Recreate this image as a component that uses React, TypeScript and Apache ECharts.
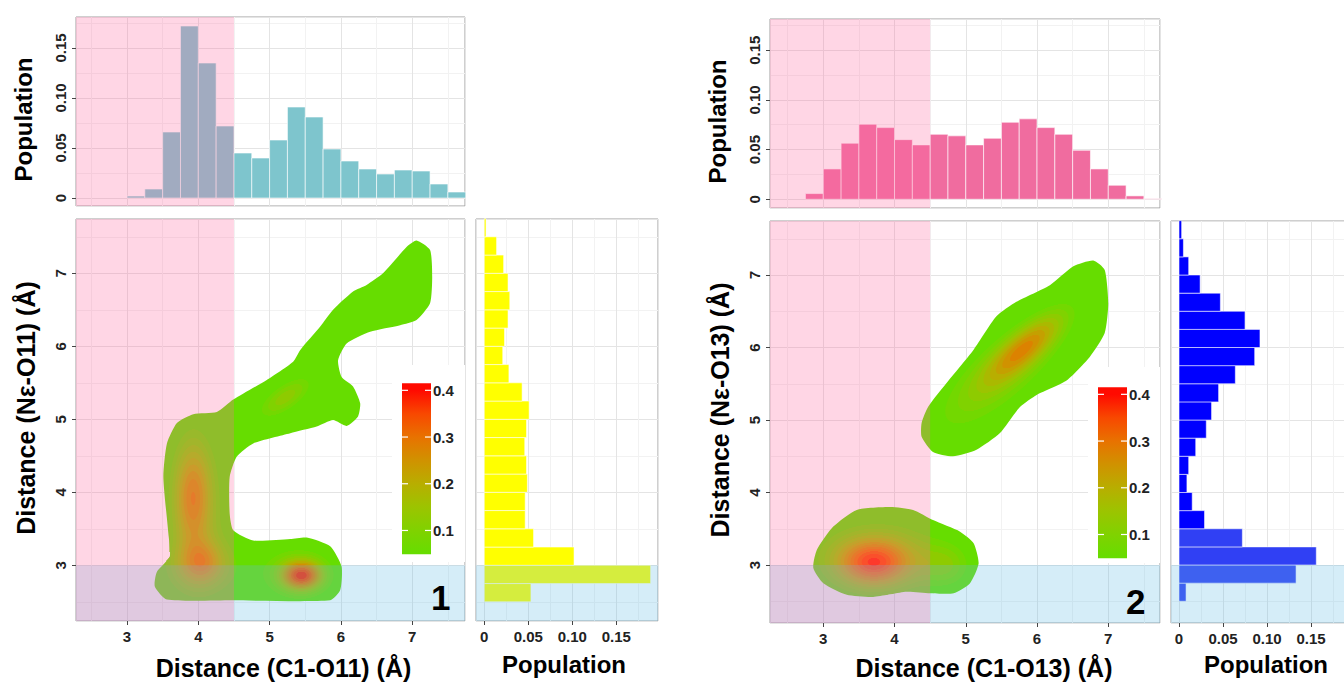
import { useEffect, useRef } from 'react';
import * as echarts from 'echarts';

const FONT = "'Liberation Sans', Arial, Helvetica, sans-serif";
const BIN = 0.25;

// ---------- data ----------
// panel 1 : top histogram (bin starts, populations)
const L_TOP_BINS = [3.0, 3.25, 3.5, 3.75, 4.0, 4.25, 4.5, 4.75, 5.0, 5.25, 5.5, 5.75, 6.0, 6.25, 6.5, 6.75, 7.0, 7.25, 7.5];
const L_TOP_POP = [0.002, 0.009, 0.066, 0.172, 0.135, 0.072, 0.045, 0.040, 0.058, 0.091, 0.081, 0.049, 0.037, 0.029, 0.024, 0.028, 0.027, 0.014, 0.006];
// panel 1 : side histogram (bin bottoms, populations)
const L_SIDE_BINS = [2.5, 2.75, 3.0, 3.25, 3.5, 3.75, 4.0, 4.25, 4.5, 4.75, 5.0, 5.25, 5.5, 5.75, 6.0, 6.25, 6.5, 6.75, 7.0, 7.25, 7.5];
const L_SIDE_POP = [0.053, 0.189, 0.102, 0.056, 0.0465, 0.0465, 0.049, 0.048, 0.046, 0.048, 0.051, 0.043, 0.028, 0.021, 0.023, 0.027, 0.029, 0.027, 0.022, 0.014, 0.002];
// panel 2 : top histogram
const R_TOP_BINS = [2.75, 3.0, 3.25, 3.5, 3.75, 4.0, 4.25, 4.5, 4.75, 5.0, 5.25, 5.5, 5.75, 6.0, 6.25, 6.5, 6.75, 7.0, 7.25, 7.5];
const R_TOP_POP = [0.0057, 0.0305, 0.0564, 0.0755, 0.0721, 0.060, 0.0547, 0.0654, 0.0638, 0.0547, 0.0614, 0.0775, 0.0809, 0.0721, 0.0654, 0.0493, 0.0305, 0.0141, 0.0034, 0.0005];
// panel 2 : side histogram
const R_SIDE_BINS = [2.5, 2.75, 3.0, 3.25, 3.5, 3.75, 4.0, 4.25, 4.5, 4.75, 5.0, 5.25, 5.5, 5.75, 6.0, 6.25, 6.5, 6.75, 7.0, 7.25, 7.5];
const R_SIDE_POP = [0.008, 0.133, 0.156, 0.072, 0.029, 0.015, 0.009, 0.011, 0.019, 0.031, 0.037, 0.045, 0.064, 0.086, 0.092, 0.075, 0.047, 0.024, 0.011, 0.005, 0.003];

// density contours: outer contour outlines [x, y] (Å)
const L_OUTLINE: [number, number][] = [
  [7.06, 7.45], [7.25, 7.32], [7.28, 6.95], [7.25, 6.59], [7.06, 6.36], [6.83, 6.29], [6.41, 6.2], [6.08, 6.04],
  [5.96, 5.81], [6.01, 5.58], [6.17, 5.45], [6.27, 5.22], [6.24, 5.04], [6.08, 4.91], [5.89, 4.99], [5.66, 4.9],
  [5.29, 4.81], [4.77, 4.67], [4.54, 4.49], [4.44, 4.21], [4.44, 3.71], [4.49, 3.48], [4.77, 3.34], [5.29, 3.36],
  [5.52, 3.38], [5.85, 3.26], [6.01, 2.98], [5.99, 2.66], [5.85, 2.52], [4.49, 2.52], [3.56, 2.53], [3.39, 2.71],
  [3.42, 2.91], [3.6, 3.12], [3.58, 3.44], [3.51, 4.21], [3.56, 4.67], [3.7, 4.95], [3.93, 5.07], [4.26, 5.1],
  [4.49, 5.27], [4.96, 5.54], [5.33, 5.79], [5.43, 5.95], [5.71, 6.27], [5.89, 6.5], [6.17, 6.75], [6.36, 6.84],
  [6.59, 7.0], [6.92, 7.36],
];
const R_OUTLINE_UP: [number, number][] = [
  [6.79, 7.2], [6.95, 7.07], [7.0, 6.61], [6.95, 6.2], [6.74, 5.87], [6.42, 5.55], [6.0, 5.35], [5.76, 5.18],
  [5.48, 4.82], [5.15, 4.59], [4.82, 4.5], [4.54, 4.56], [4.38, 4.77], [4.38, 4.96], [4.47, 5.18], [4.73, 5.51],
  [5.11, 5.97], [5.43, 6.43], [5.71, 6.63], [6.18, 6.86], [6.51, 7.12],
];
const R_OUTLINE_LOW: [number, number][] = [
  [3.94, 3.8], [4.26, 3.76], [4.54, 3.62], [4.92, 3.46], [5.11, 3.3], [5.18, 3.02], [5.06, 2.75], [4.83, 2.61],
  [4.5, 2.61], [4.17, 2.63], [3.7, 2.56], [3.33, 2.59], [3.0, 2.75], [2.86, 2.96], [2.91, 3.21], [3.14, 3.53],
  [3.47, 3.76],
];
// density peaks: [cx, cy, spread along angle, spread across, angle deg, height]
const L_PEAKS = [
  [3.92, 3.95, 0.18, 0.5, 0, 0.18],
  [3.97, 3.8, 0.3, 0.8, 0, 0.1],
  [4.07, 3.05, 0.2, 0.2, 0, 0.11],
  [3.95, 2.95, 0.35, 0.25, 0, 0.07],
  [5.45, 2.86, 0.2, 0.14, 0, 0.28],
  [5.45, 2.88, 0.35, 0.26, 0, 0.09],
  [4.75, 2.93, 0.75, 0.4, 0, 0.04],
  [5.22, 5.3, 0.34, 0.14, 34, 0.14],
];
const R_PEAKS = [
  [5.85, 6.02, 0.5, 0.17, 40, 0.2],
  [5.4, 5.55, 0.85, 0.32, 40, 0.12],
  [3.7, 3.03, 0.36, 0.23, 0, 0.29],
  [3.85, 3.15, 0.75, 0.38, 0, 0.1],
  [4.72, 2.98, 0.25, 0.22, 0, 0.09],
];
const LEVELS = [0.05, 0.075, 0.1, 0.125, 0.15, 0.175, 0.2, 0.225, 0.25, 0.275, 0.3, 0.325, 0.35, 0.375, 0.4];
// colour scale
const CB_VALS = [0.05, 0.1, 0.15, 0.2, 0.25, 0.3, 0.35, 0.4];
const CB_COLORS = ['#66dd00', '#80d200', '#9cc400', '#b8ae00', '#d09200', '#e87200', '#f84800', '#ff0a00'];
const CB_TICKS = [0.1, 0.2, 0.3, 0.4];
const CB_MIN = 0.049;
const CB_MAX = 0.415;
// region split values
const X_SPLIT = 4.5;
const Y_SPLIT = 3.0;

// axis ranges
const L_X = [2.285, 7.74];
const L_Y = [2.237, 7.744];
const L_TOPY = [-0.008, 0.181];
const L_SIDEX = [-0.0094, 0.1974];
const L_CBY = [0.0325, 0.4542];
const R_X = [2.252, 7.726];
const R_Y = [2.2, 7.745];
const R_TOPY = [-0.0088, 0.1814];
const R_SIDEX = [-0.0091, 0.1977];
const R_CBY = [0.039, 0.4585];

const PINK_OV = 'rgba(255,105,160,0.27)';
const BLUE_OV = 'rgba(100,190,230,0.27)';

function hexRgb(h: string) {
  return [parseInt(h.slice(1, 3), 16), parseInt(h.slice(3, 5), 16), parseInt(h.slice(5, 7), 16)];
}
function colorAt(v: number) {
  if (v <= CB_VALS[0]) return CB_COLORS[0];
  for (let i = 1; i < CB_VALS.length; i++) {
    if (v <= CB_VALS[i]) {
      const t = (v - CB_VALS[i - 1]) / (CB_VALS[i] - CB_VALS[i - 1]);
      const a = hexRgb(CB_COLORS[i - 1]);
      const b = hexRgb(CB_COLORS[i]);
      const c = a.map((x, k) => Math.round(x + (b[k] - x) * t));
      return `rgb(${c[0]},${c[1]},${c[2]})`;
    }
  }
  return CB_COLORS[CB_COLORS.length - 1];
}

function makeDensity(peaks: number[][]) {
  const pre = peaks.map(([cx, cy, sa, sb, ang, A]) => {
    const t = (ang * Math.PI) / 180;
    return [cx, cy, sa, sb, Math.cos(t), Math.sin(t), A];
  });
  return (x: number, y: number) => {
    let s = 0;
    for (const [cx, cy, sa, sb, c, sn, A] of pre) {
      const dx = x - cx;
      const dy = y - cy;
      const a = (dx * c + dy * sn) / sa;
      const b = (-dx * sn + dy * c) / sb;
      s += A * Math.exp(-0.5 * (a * a + b * b));
    }
    return s;
  };
}

function scan(poly: [number, number][], y: number) {
  const xs: number[] = [];
  for (let i = 0; i < poly.length; i++) {
    const [xa, ya] = poly[i];
    const [xb, yb] = poly[(i + 1) % poly.length];
    if ((ya <= y && yb > y) || (yb <= y && ya > y)) xs.push(xa + ((y - ya) / (yb - ya)) * (xb - xa));
  }
  xs.sort((a, b) => a - b);
  const out: number[][] = [];
  for (let i = 0; i + 1 < xs.length; i += 2) out.push([xs[i], xs[i + 1]]);
  return out;
}

function contourRender(peaks: number[][], outlines: [number, number][][], xr: number[], yr: number[]) {
  const dens = makeDensity(peaks);
  return (params: any, api: any) => {
    const cs = params.coordSys;
    const p0 = api.coord([xr[0], yr[0]]);
    const p1 = api.coord([xr[1], yr[1]]);
    const fx = (px: number) => xr[0] + ((px - p0[0]) / (p1[0] - p0[0])) * (xr[1] - xr[0]);
    const fy = (py: number) => yr[0] + ((py - p0[1]) / (p1[1] - p0[1])) * (yr[1] - yr[0]);
    const children: any[] = [];
    outlines.forEach((o) =>
      children.push({
        type: 'polygon',
        silent: true,
        shape: { points: o.map((p) => api.coord(p)), smooth: 0.2 },
        style: { fill: colorAt(LEVELS[0]) },
      })
    );
    const x0 = Math.floor(cs.x);
    const x1 = Math.ceil(cs.x + cs.width);
    const y0 = Math.floor(cs.y);
    const y1 = Math.ceil(cs.y + cs.height);
    const W = x1 - x0;
    const rows: Float32Array[] = [];
    for (let py = y0; py < y1; py++) {
      const yv = fy(py + 0.5);
      const ivs: number[][] = [];
      outlines.forEach((o) => scan(o, yv).forEach((iv) => ivs.push(iv)));
      const d = new Float32Array(W);
      if (ivs.length) {
        for (let i = 0; i < W; i++) {
          const xv = fx(x0 + i + 0.5);
          let inside = false;
          for (const iv of ivs) if (xv >= iv[0] && xv <= iv[1]) { inside = true; break; }
          d[i] = inside ? dens(xv, yv) : 0;
        }
      }
      rows.push(d);
    }
    for (let li = 1; li < LEVELS.length; li++) {
      const L = LEVELS[li];
      const fill = colorAt(L);
      rows.forEach((d, r) => {
        let start = -1;
        for (let i = 0; i <= W; i++) {
          const on = i < W && d[i] >= L;
          if (on && start < 0) {
            start = i === 0 ? 0 : i - 1 + (L - d[i - 1]) / (d[i] - d[i - 1]);
          } else if (!on && start >= 0) {
            const end = i === W ? W - 1 : i - 1 + (d[i - 1] - L) / (d[i - 1] - d[i]);
            children.push({
              type: 'rect',
              silent: true,
              shape: { x: x0 + 0.5 + start, y: y0 + r, width: Math.max(0.3, end - start), height: 1 },
              style: { fill },
            });
            start = -1;
          }
        }
      });
    }
    return { type: 'group', children };
  };
}

function vBarRender(color: string) {
  return (params: any, api: any) => {
    const x0 = api.value(0);
    const v = api.value(1);
    const a = api.coord([x0, 0]);
    const b = api.coord([x0 + BIN, v]);
    return {
      type: 'rect',
      shape: { x: a[0], y: b[1], width: b[0] - a[0], height: a[1] - b[1] },
      style: { fill: color, stroke: 'rgba(255,255,255,0.6)', lineWidth: 1 },
    };
  };
}
function hBarRender(colorFor: (y0: number) => string) {
  return (params: any, api: any) => {
    const y0 = api.value(0);
    const v = api.value(1);
    const a = api.coord([0, y0]);
    const b = api.coord([v, y0 + BIN]);
    return {
      type: 'rect',
      shape: { x: a[0], y: b[1], width: b[0] - a[0], height: a[1] - b[1] },
      style: { fill: colorFor(y0), stroke: 'rgba(255,255,255,0.55)', lineWidth: 1 },
    };
  };
}
function colorbarRender(params: any, api: any) {
  const cs = params.coordSys;
  const bx = cs.x + 10;
  const bw = 29;
  const top = api.coord([0.5, CB_MAX])[1];
  const bot = api.coord([0.5, CB_MIN])[1];
  const colorStops: any[] = [{ offset: 0, color: CB_COLORS[0] }];
  CB_VALS.forEach((v, i) =>
    colorStops.push({ offset: Math.min(1, Math.max(0, (v - CB_MIN) / (CB_MAX - CB_MIN))), color: CB_COLORS[i] })
  );
  colorStops.push({ offset: 1, color: CB_COLORS[CB_COLORS.length - 1] });
  const children: any[] = [
    {
      type: 'rect',
      shape: { x: bx, y: top, width: bw, height: bot - top },
      style: { fill: { type: 'linear', x: 0, y: 1, x2: 0, y2: 0, colorStops } },
    },
  ];
  CB_TICKS.forEach((t) => {
    const y = api.coord([0.5, t])[1];
    children.push({ type: 'line', shape: { x1: bx, y1: y, x2: bx + 6, y2: y }, style: { stroke: '#fff', lineWidth: 1.2 } });
    children.push({ type: 'line', shape: { x1: bx + bw - 6, y1: y, x2: bx + bw, y2: y }, style: { stroke: '#fff', lineWidth: 1.2 } });
  });
  return { type: 'group', children };
}

const labelStyle = { fontFamily: FONT, fontWeight: 'bold', fontSize: 15, color: '#222' };
const nameStyle = { fontFamily: FONT, fontWeight: 'bold', fontSize: 24, color: '#000' };
const fmt2 = (v: number) => (Math.abs(v) < 1e-9 ? '0' : v.toFixed(2));
const fmtInt = (v: number) => String(Math.round(v));

function valAxis(gridIndex: number, range: number[], opts: any = {}) {
  const { labels, name, nameGap, rotate, formatter, splitNumber, namePad, nameSize } = opts;
  return {
    type: 'value',
    gridIndex,
    min: range[0],
    max: range[1],
    splitNumber: splitNumber ?? 5,
    axisLine: { show: false },
    axisTick: { show: !!labels, length: 4, lineStyle: { color: '#444', width: 1 } },
    axisLabel: {
      show: !!labels,
      ...labelStyle,
      rotate: rotate ?? 0,
      margin: 8,
      showMinLabel: false,
      showMaxLabel: false,
      formatter,
    },
    splitLine: { show: true, lineStyle: { color: '#e4e4e4', width: 1 } },
    minorTick: { show: false, splitNumber: 2 },
    minorSplitLine: { show: true, lineStyle: { color: '#f2f2f2', width: 1 } },
    name: name ?? '',
    nameLocation: 'middle',
    nameGap: nameGap ?? 30,
    nameTextStyle: { ...nameStyle, fontSize: nameSize ?? 24, padding: namePad ?? 0 },
  };
}

const frame = { show: true, borderColor: '#9e9e9e', borderWidth: 1, outerBoundsMode: 'none', containLabel: false };

export default function App() {
  const ref = useRef<HTMLDivElement>(null);
  useEffect(() => {
    if (!ref.current) return;
    const chart = echarts.init(ref.current, undefined, { renderer: 'svg' });
    const grids = [
      { left: 76, top: 17, width: 389, height: 189, ...frame },
      { left: 76, top: 219, width: 389, height: 402, ...frame },
      { left: 476, top: 219, width: 182, height: 402, ...frame },
      { left: 392, top: 365, width: 73, height: 197, show: true, backgroundColor: '#fff', borderWidth: 0, z: 1, outerBoundsMode: 'none' },
      { left: 770, top: 19, width: 390, height: 189, ...frame },
      { left: 770, top: 221, width: 390, height: 402, ...frame },
      { left: 1171, top: 221, width: 182, height: 402, ...frame },
      { left: 1088, top: 367, width: 72, height: 196, show: true, backgroundColor: '#fff', borderWidth: 0, z: 1, outerBoundsMode: 'none' },
    ];
    const cbY = (gi: number, range: number[]) => ({
      type: 'value', gridIndex: gi, min: range[0], max: range[1], splitNumber: 4, position: 'left', offset: -39, z: 3,
      axisLine: { show: false }, axisTick: { show: false }, splitLine: { show: false },
      axisLabel: { ...labelStyle, inside: true, margin: 2, showMinLabel: false, showMaxLabel: false, formatter: (v: number) => v.toFixed(1) },
    });
    const cbX = (gi: number) => ({ type: 'value', gridIndex: gi, min: 0, max: 1, show: false });
    const xAxis = [
      valAxis(0, L_X),
      valAxis(1, L_X, { labels: true, name: 'Distance (C1-O11) (Å)', nameGap: 34, nameSize: 25, namePad: [0, 0, 0, 26], formatter: fmtInt }),
      valAxis(2, L_SIDEX, { labels: true, name: 'Population', nameGap: 31, formatter: fmt2, splitNumber: 4, namePad: [0, 6, 0, 0] }),
      cbX(3),
      valAxis(4, R_X),
      valAxis(5, R_X, { labels: true, name: 'Distance (C1-O13) (Å)', nameGap: 32, nameSize: 25, namePad: [0, 0, 0, 38], formatter: fmtInt }),
      valAxis(6, R_SIDEX, { labels: true, name: 'Population', nameGap: 29, formatter: fmt2, splitNumber: 4, namePad: [0, 0, 0, 8] }),
      cbX(7),
    ];
    const yAxis = [
      valAxis(0, L_TOPY, { labels: true, rotate: 90, name: 'Population', nameGap: 41, namePad: [0, 16, 0, 0], formatter: fmt2, splitNumber: 4 }),
      valAxis(1, L_Y, { labels: true, rotate: 90, name: 'Distance (Nε-O11) (Å)', nameGap: 38, nameSize: 25, namePad: [0, 0, 0, 24], formatter: fmtInt }),
      valAxis(2, L_Y),
      cbY(3, L_CBY),
      valAxis(4, R_TOPY, { labels: true, rotate: 90, name: 'Population', nameGap: 41, namePad: [0, 16, 0, 0], formatter: fmt2, splitNumber: 4 }),
      valAxis(5, R_Y, { labels: true, rotate: 90, name: 'Distance (Nε-O13) (Å)', nameGap: 38, nameSize: 25, namePad: [0, 0, 0, 24], formatter: fmtInt }),
      valAxis(6, R_Y),
      cbY(7, R_CBY),
    ];
    const pinkArea = (xr: number[]) => [{ xAxis: xr[0], itemStyle: { color: PINK_OV } }, { xAxis: X_SPLIT }];
    const blueArea = (yr: number[]) => [{ yAxis: yr[0], itemStyle: { color: BLUE_OV } }, { yAxis: Y_SPLIT }];
    const mk = (data: any[]) => ({ silent: true, z: 5, label: { show: false }, data });
    const series: any[] = [
      {
        type: 'custom', name: 'pop1top', xAxisIndex: 0, yAxisIndex: 0, z: 2,
        data: L_TOP_BINS.map((b, i) => [b, L_TOP_POP[i]]), encode: { x: 0, y: 1 },
        renderItem: vBarRender('#7ec5cd'), markArea: mk([pinkArea(L_X)]),
      },
      {
        type: 'custom', name: 'dens1', xAxisIndex: 1, yAxisIndex: 1, z: 2,
        data: [[L_X[0], L_Y[0]]], encode: { x: 0, y: 1 },
        renderItem: contourRender(L_PEAKS, [L_OUTLINE], L_X, L_Y), markArea: mk([blueArea(L_Y), pinkArea(L_X)]),
      },
      {
        type: 'custom', name: 'pop1side', xAxisIndex: 2, yAxisIndex: 2, z: 2,
        data: L_SIDE_BINS.map((b, i) => [b, L_SIDE_POP[i]]), encode: { x: 1, y: 0 },
        renderItem: hBarRender(() => '#ffff00'), markArea: mk([blueArea(L_Y)]),
      },
      {
        type: 'custom', name: 'cb1', xAxisIndex: 3, yAxisIndex: 3, z: 3,
        data: [[0.5, CB_MIN]], encode: { x: 0, y: 1 }, renderItem: colorbarRender,
      },
      {
        type: 'custom', name: 'pop2top', xAxisIndex: 4, yAxisIndex: 4, z: 2,
        data: R_TOP_BINS.map((b, i) => [b, R_TOP_POP[i]]), encode: { x: 0, y: 1 },
        renderItem: vBarRender('#f06c9f'), markArea: mk([pinkArea(R_X)]),
      },
      {
        type: 'custom', name: 'dens2', xAxisIndex: 5, yAxisIndex: 5, z: 2,
        data: [[R_X[0], R_Y[0]]], encode: { x: 0, y: 1 },
        renderItem: contourRender(R_PEAKS, [R_OUTLINE_UP, R_OUTLINE_LOW], R_X, R_Y), markArea: mk([blueArea(R_Y), pinkArea(R_X)]),
      },
      {
        type: 'custom', name: 'pop2side', xAxisIndex: 6, yAxisIndex: 6, z: 2,
        data: R_SIDE_BINS.map((b, i) => [b, R_SIDE_POP[i]]), encode: { x: 1, y: 0 },
        renderItem: hBarRender((y0) => (y0 < 3.5 ? '#3040f4' : '#0000ff')), markArea: mk([blueArea(R_Y)]),
      },
      {
        type: 'custom', name: 'cb2', xAxisIndex: 7, yAxisIndex: 7, z: 3,
        data: [[0.5, CB_MIN]], encode: { x: 0, y: 1 }, renderItem: colorbarRender,
      },
    ];
    chart.setOption({
      animation: false,
      backgroundColor: '#ffffff',
      textStyle: { fontFamily: FONT },
      grid: grids,
      xAxis,
      yAxis,
      series,
      graphic: [
        { type: 'text', left: 431, top: 580, z: 10, style: { text: '1', fontFamily: FONT, fontWeight: 'bold', fontSize: 35, fill: '#000' } },
        { type: 'text', left: 1126, top: 584, z: 10, style: { text: '2', fontFamily: FONT, fontWeight: 'bold', fontSize: 35, fill: '#000' } },
      ],
    });
    return () => chart.dispose();
  }, []);
  return <div ref={ref} style={{ position: 'fixed', left: 0, top: 0, width: 1344, height: 682 }} />;
}
